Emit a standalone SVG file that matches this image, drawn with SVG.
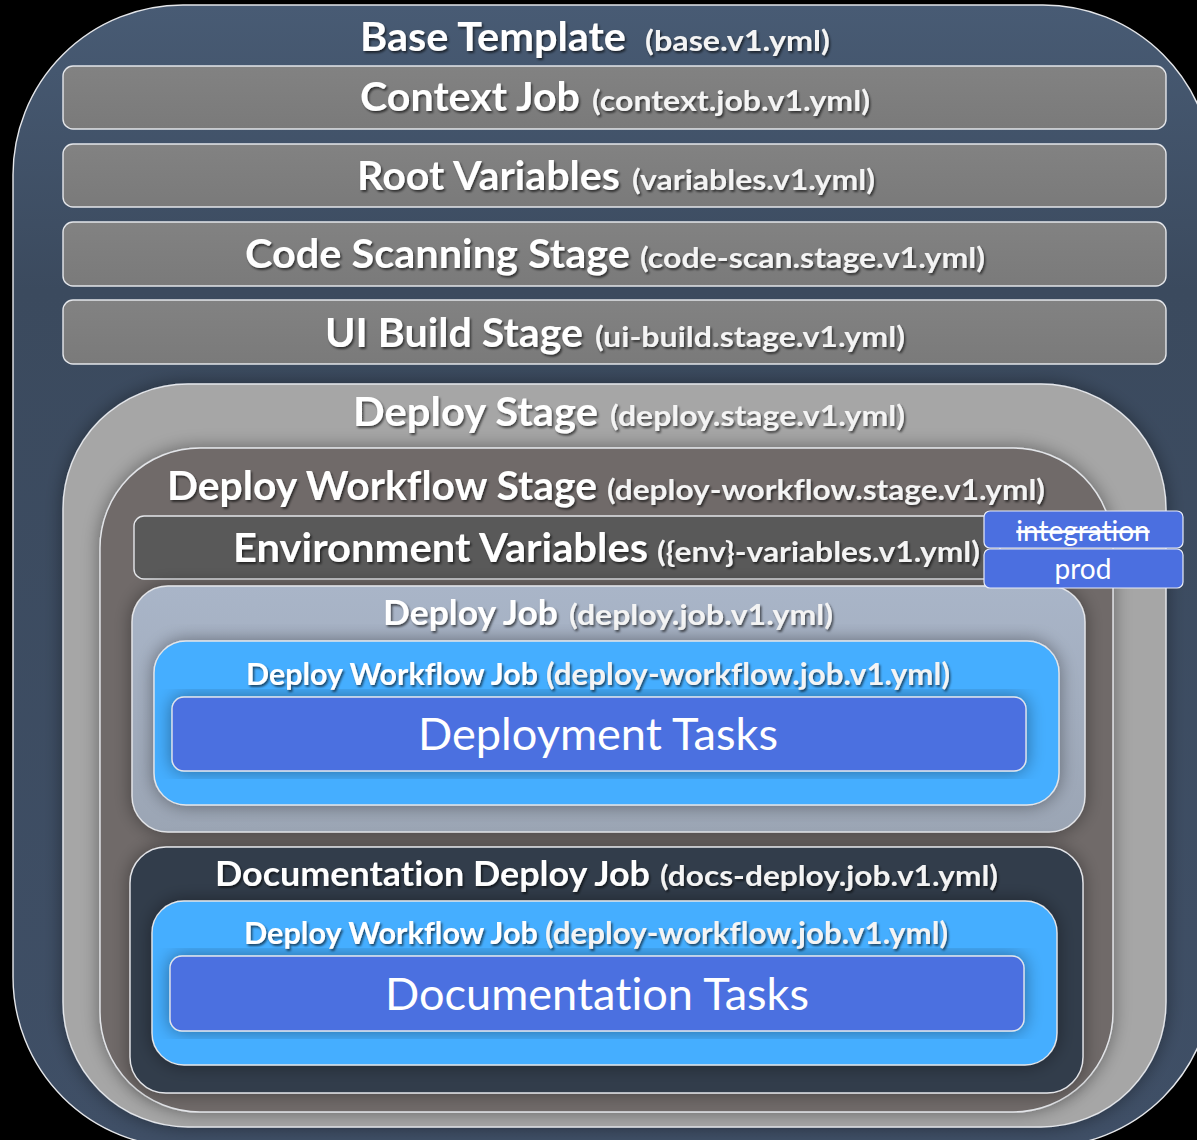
<svg xmlns="http://www.w3.org/2000/svg" width="1197" height="1140" viewBox="0 0 1197 1140">
  <defs>
    <linearGradient id="gBase" x1="0" y1="0" x2="0" y2="1">
      <stop offset="0" stop-color="#485b74"/>
      <stop offset="0.25" stop-color="#3b4a5e"/>
      <stop offset="1" stop-color="#3f4f66"/>
    </linearGradient>
    <linearGradient id="gBar" x1="0" y1="0" x2="0" y2="1">
      <stop offset="0" stop-color="#828282"/>
      <stop offset="1" stop-color="#7a7a7a"/>
    </linearGradient>
    <linearGradient id="gJob" x1="0" y1="0" x2="0" y2="1">
      <stop offset="0" stop-color="#a9b5c8"/>
      <stop offset="1" stop-color="#9ba5b4"/>
    </linearGradient>
    <filter id="glow" x="-10%" y="-10%" width="120%" height="120%">
      <feGaussianBlur in="SourceAlpha" stdDeviation="9"/>
      <feComponentTransfer><feFuncA type="linear" slope="0.4"/></feComponentTransfer>
      <feMerge><feMergeNode/><feMergeNode in="SourceGraphic"/></feMerge>
    </filter>
    <filter id="txt" x="-5%" y="-20%" width="110%" height="150%">
      <feDropShadow dx="1.5" dy="2" stdDeviation="1.2" flood-color="#000" flood-opacity="0.6"/>
    </filter>
  </defs>
  <style>
    text { font-variant-ligatures: none; font-feature-settings: "liga" 0, "clig" 0; }
    .edge { stroke: #e4e6ea; stroke-width: 1.4; }
    .bar { fill: url(#gBar); }
    .t { font-family: Lato, "Open Sans", "Liberation Sans", sans-serif; font-weight: 700; fill: #ffffff; filter: url(#txt); }
    .f { font-family: Lato, "Open Sans", "Liberation Sans", sans-serif; font-weight: 700; fill: #f4f4f4; filter: url(#txt); }
    .plain { font-family: Lato, "Open Sans", "Liberation Sans", sans-serif; font-weight: 400; fill: #ffffff; }
    .env { fill: #4b6fe0; stroke: #e8ecf8; stroke-width: 1.2; }
  </style>

  <rect width="1197" height="1140" fill="#000"/>

  <!-- outermost template -->
  <g id="base-template">
    <rect class="edge" x="13" y="5" width="1200" height="1142" rx="170" ry="170" fill="url(#gBase)"/>
    <text class="t" x="360" y="51" font-size="40" textLength="266" lengthAdjust="spacingAndGlyphs">Base Template</text>
    <text class="f" x="645" y="51" font-size="28" textLength="185" lengthAdjust="spacingAndGlyphs">(base.v1.yml)</text>
  </g>

  <g id="context-job">
    <rect class="bar edge" x="63" y="66" width="1103" height="63" rx="10"/>
    <text class="t" x="360" y="111" font-size="40" textLength="220" lengthAdjust="spacingAndGlyphs">Context Job</text>
    <text class="f" x="592" y="111" font-size="28" textLength="278" lengthAdjust="spacingAndGlyphs">(context.job.v1.yml)</text>
  </g>

  <g id="root-variables">
    <rect class="bar edge" x="63" y="144" width="1103" height="63" rx="10"/>
    <text class="t" x="357" y="190" font-size="40" textLength="263" lengthAdjust="spacingAndGlyphs">Root Variables</text>
    <text class="f" x="632" y="190" font-size="28" textLength="243" lengthAdjust="spacingAndGlyphs">(variables.v1.yml)</text>
  </g>

  <g id="code-scan-stage">
    <rect class="bar edge" x="63" y="222" width="1103" height="64" rx="10"/>
    <text class="t" x="245" y="268" font-size="40" textLength="385" lengthAdjust="spacingAndGlyphs">Code Scanning Stage</text>
    <text class="f" x="640" y="268" font-size="28" textLength="345" lengthAdjust="spacingAndGlyphs">(code-scan.stage.v1.yml)</text>
  </g>

  <g id="ui-build-stage">
    <rect class="bar edge" x="63" y="300" width="1103" height="64" rx="10"/>
    <text class="t" x="325" y="347" font-size="40" textLength="258" lengthAdjust="spacingAndGlyphs">UI Build Stage</text>
    <text class="f" x="595" y="347" font-size="28" textLength="310" lengthAdjust="spacingAndGlyphs">(ui-build.stage.v1.yml)</text>
  </g>

  <g id="deploy-stage">
    <rect class="edge" x="63" y="384" width="1103" height="743" rx="125" fill="#a6a6a6" filter="url(#glow)"/>
    <text class="t" x="353" y="426" font-size="40" textLength="245" lengthAdjust="spacingAndGlyphs">Deploy Stage</text>
    <text class="f" x="610" y="426" font-size="28" textLength="295" lengthAdjust="spacingAndGlyphs">(deploy.stage.v1.yml)</text>
  </g>

  <g id="deploy-workflow-stage">
    <rect class="edge" x="100" y="448" width="1013" height="664" rx="100" fill="#6f6a69" filter="url(#glow)"/>
    <text class="t" x="167" y="500" font-size="40" textLength="430" lengthAdjust="spacingAndGlyphs">Deploy Workflow Stage</text>
    <text class="f" x="607" y="500" font-size="28" textLength="438" lengthAdjust="spacingAndGlyphs">(deploy-workflow.stage.v1.yml)</text>
  </g>

  <g id="environment-variables">
    <rect class="edge" x="134" y="516" width="866" height="63" rx="10" fill="#595959"/>
    <text class="t" x="233" y="562" font-size="40" textLength="415" lengthAdjust="spacingAndGlyphs">Environment Variables</text>
    <text class="f" x="657" y="562" font-size="28" textLength="323" lengthAdjust="spacingAndGlyphs">({env}-variables.v1.yml)</text>
  </g>

  <g id="deploy-job">
    <rect class="edge" x="132" y="586" width="953" height="246" rx="36" fill="url(#gJob)" filter="url(#glow)"/>
    <text class="t" x="383" y="625" font-size="34" textLength="175" lengthAdjust="spacingAndGlyphs">Deploy Job</text>
    <text class="f" x="569" y="625" font-size="28" textLength="264" lengthAdjust="spacingAndGlyphs">(deploy.job.v1.yml)</text>
  </g>

  <g id="deploy-workflow-job">
    <rect class="edge" x="154" y="641" width="905" height="164" rx="32" fill="#44aeff" filter="url(#glow)"/>
    <text class="t" x="246" y="685" font-size="30" textLength="292" lengthAdjust="spacingAndGlyphs">Deploy Workflow Job</text>
    <text class="f" x="546" y="685" font-size="30" textLength="404" lengthAdjust="spacingAndGlyphs">(deploy-workflow.job.v1.yml)</text>
  </g>

  <g id="deployment-tasks">
    <rect class="edge" x="172" y="697" width="854" height="74" rx="12" fill="#4b6fe0" filter="url(#glow)"/>
    <text class="plain" x="418" y="750" font-size="44" textLength="360" lengthAdjust="spacingAndGlyphs">Deployment Tasks</text>
  </g>

  <g id="docs-deploy-job">
    <rect class="edge" x="130" y="847" width="953" height="246" rx="36" fill="#323c4c" filter="url(#glow)"/>
    <text class="t" x="215" y="886" font-size="34" textLength="435" lengthAdjust="spacingAndGlyphs">Documentation Deploy Job</text>
    <text class="f" x="660" y="886" font-size="28" textLength="338" lengthAdjust="spacingAndGlyphs">(docs-deploy.job.v1.yml)</text>
  </g>

  <g id="docs-deploy-workflow-job">
    <rect class="edge" x="152" y="901" width="905" height="164" rx="32" fill="#44aeff" filter="url(#glow)"/>
    <text class="t" x="244" y="944" font-size="30" textLength="294" lengthAdjust="spacingAndGlyphs">Deploy Workflow Job</text>
    <text class="f" x="545" y="944" font-size="30" textLength="403" lengthAdjust="spacingAndGlyphs">(deploy-workflow.job.v1.yml)</text>
  </g>

  <g id="documentation-tasks">
    <rect class="edge" x="170" y="956" width="854" height="75" rx="12" fill="#4b6fe0" filter="url(#glow)"/>
    <text class="plain" x="385" y="1010" font-size="44" textLength="424" lengthAdjust="spacingAndGlyphs">Documentation Tasks</text>
  </g>

  <!-- environment tabs -->
  <g id="env-integration">
    <rect class="env" x="984" y="511" width="199" height="37" rx="6"/>
    <text class="plain" x="1083" y="541" font-size="28" text-anchor="middle" text-decoration="line-through">integration</text>
  </g>
  <g id="env-prod">
    <rect class="env" x="984" y="549" width="199" height="39" rx="6"/>
    <text class="plain" x="1083" y="579" font-size="28" text-anchor="middle">prod</text>
  </g>

  <g id="connectors"/>
</svg>
